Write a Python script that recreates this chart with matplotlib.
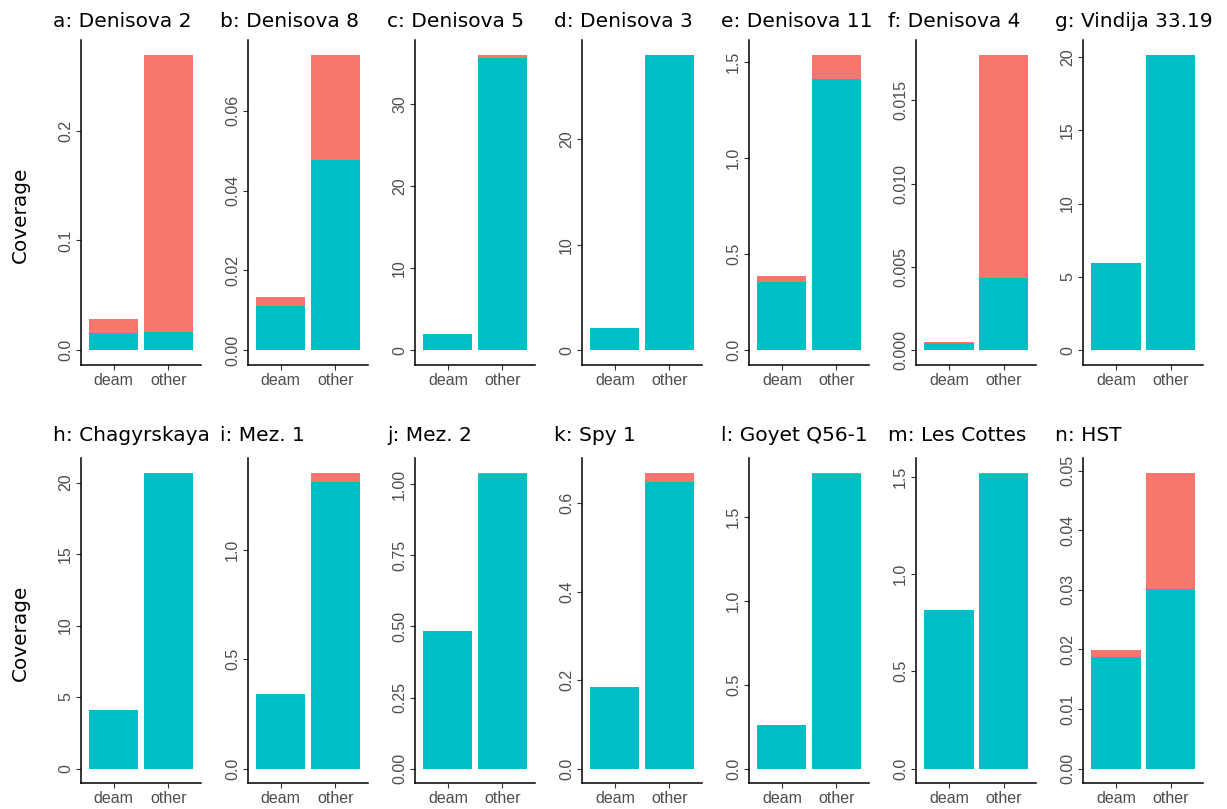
import matplotlib
matplotlib.use("Agg")
import matplotlib.pyplot as plt

titles = ["a: Denisova 2", "b: Denisova 8", "c: Denisova 5", "d: Denisova 3",
          "e: Denisova 11", "f: Denisova 4", "g: Vindija 33.19",
          "h: Chagyrskaya", "i: Mez. 1", "j: Mez. 2", "k: Spy 1",
          "l: Goyet Q56-1", "m: Les Cottes", "n: HST"]
categories = ["deam", "other"]

deam_teal = [0.016, 0.0112, 2.03, 2.06, 0.354, 0.00044, 5.94,
             4.08, 0.343, 0.484, 0.184, 0.26, 0.813, 0.01873]
deam_red = [0.012, 0.0022, 0.0, 0.0, 0.031, 0.00008, 0.0,
            0.0, 0.0, 0.0, 0.0, 0.0, 0.0, 0.00124]
other_teal = [0.017, 0.0477, 35.65, 28.0, 1.408, 0.00435, 20.15,
              20.67, 1.312, 1.0365, 0.648, 1.755, 1.515, 0.0301]
other_red = [0.252, 0.0263, 0.35, 0.0, 0.128, 0.01338, 0.0,
             0.0, 0.041, 0.0035, 0.0203, 0.006, 0.005, 0.0195]

ytick_labels = [
    ["0.0", "0.1", "0.2"],
    ["0.00", "0.02", "0.04", "0.06"],
    ["0", "10", "20", "30"],
    ["0", "10", "20"],
    ["0.0", "0.5", "1.0", "1.5"],
    ["0.000", "0.005", "0.010", "0.015"],
    ["0", "5", "10", "15", "20"],
    ["0", "5", "10", "15", "20"],
    ["0.0", "0.5", "1.0"],
    ["0.00", "0.25", "0.50", "0.75", "1.00"],
    ["0.0", "0.2", "0.4", "0.6"],
    ["0.0", "0.5", "1.0", "1.5"],
    ["0.0", "0.5", "1.0", "1.5"],
    ["0.00", "0.01", "0.02", "0.03", "0.04", "0.05"],
]

TEAL = "#00BFC4"
RED = "#F8766D"
W, H = 1227, 809
fig = plt.figure(figsize=(W / 100, H / 100), dpi=100)
fig.patch.set_facecolor("white")

tick_font = "Liberation Sans"
title_font = "DejaVu Sans"

row_tops = [40, 458.3]
panel_h = 325
panel_w = 120
left0 = 81
step = 167.05

for i, title in enumerate(titles):
    row = i // 7
    col = i % 7
    left = left0 + step * col
    top = row_tops[row]
    ax = fig.add_axes([left / W, 1 - (top + panel_h) / H, panel_w / W, panel_h / H])
    x = [1, 2]
    teal_vals = [deam_teal[i], other_teal[i]]
    red_vals = [deam_red[i], other_red[i]]
    ax.bar(x, teal_vals, width=0.9, color=TEAL, linewidth=0)
    ax.bar(x, red_vals, width=0.9, bottom=teal_vals, color=RED, linewidth=0)
    ymax = max(t + r for t, r in zip(teal_vals, red_vals))
    ax.set_xlim(0.4, 2.6)
    ax.set_ylim(-0.05 * ymax, 1.05 * ymax)
    ax.set_xticks(x)
    ax.set_xticklabels(categories)
    labs = ytick_labels[i]
    ax.set_yticks([float(v) for v in labs])
    ax.set_yticklabels(labs)
    for s in ["top", "right"]:
        ax.spines[s].set_visible(False)
    for s in ["left", "bottom"]:
        ax.spines[s].set_linewidth(1.1)
        ax.spines[s].set_color("black")
    ax.tick_params(axis="both", length=3.3, width=0.8, color="#333333",
                   labelcolor="#4D4D4D", labelsize=11.5, pad=2.5)
    ax.tick_params(axis="y", labelrotation=90)
    for lab in ax.get_yticklabels():
        lab.set_fontfamily(tick_font)
        lab.set_va("center")
    for lab in ax.get_xticklabels():
        lab.set_fontfamily(tick_font)
    title_y = [27, 441][row]
    fig.text((left - 28) / W, 1 - title_y / H, title, ha="left", va="baseline",
             fontsize=14.5, family=title_font, color="black")

for yc in [215, 633]:
    fig.text(20 / W, 1 - yc / H, "Coverage", rotation=90, ha="center", va="center",
             fontsize=14.4, family=title_font, color="black")

fig.savefig("out.png", dpi=100, facecolor="white")
